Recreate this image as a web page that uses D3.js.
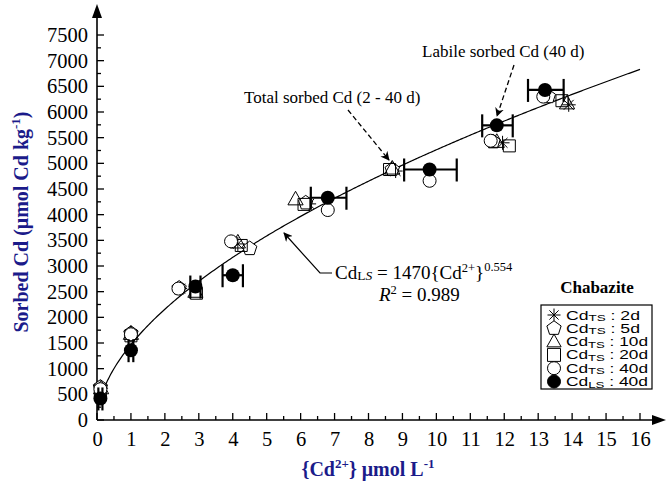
<!DOCTYPE html>
<html>
<head>
<meta charset="utf-8">
<style>
  body { margin: 0; background: #fff; }
  svg { display: block; }
</style>
</head>
<body>
<svg width="667" height="485"></svg>
<script src="https://cdn.jsdelivr.net/npm/d3@7"></script>
<script>
	// sorbed Cd vs free Cd2+ activity, chabazite
	var ts2dX = [0.12, 1.0, 2.45, 4.15, 6.25, 8.8, 11.95, 13.9];
	var ts2dY = [620, 1660, 2560, 3430, 4210, 4850, 5400, 6140];
	var ts5dX = [0.1, 1.0, 2.42, 4.5, 6.15, 8.7, 11.67, 13.3];
	var ts5dY = [640, 1690, 2570, 3340, 4230, 4880, 5420, 6300];
	var ts10dX = [0.12, 1.0, 2.9, 4.15, 5.85, 8.7, 11.78, 13.85];
	var ts10dY = [620, 1680, 2500, 3460, 4300, 4900, 5420, 6170];
	var ts20dX = [0.1, 1.0, 2.93, 4.25, 6.1, 8.62, 12.15, 13.7];
	var ts20dY = [580, 1640, 2470, 3400, 4200, 4880, 5340, 6220];
	var ts40dX = [0.1, 1.0, 2.4, 3.95, 6.8, 9.8, 11.6, 13.15];
	var ts40dY = [600, 1670, 2560, 3480, 4090, 4660, 5440, 6300];
	var lsX = [0.1, 1.0, 2.9, 4.0, 6.8, 9.8, 11.78, 13.2];
	var lsY = [420, 1360, 2600, 2820, 4330, 4880, 5740, 6430];
	var lsXlo = [0.04, 0.93, 2.75, 3.7, 6.3, 9.05, 11.35, 12.7];
	var lsXhi = [0.16, 1.07, 3.05, 4.3, 7.35, 10.6, 12.25, 13.75];

	// fitted isotherm CdLS = 1470 {Cd2+}^0.554
	var fitK = 1470, fitN = 0.554;

	var xTicks = d3.range(0, 17, 1);
	var yTicks = d3.range(0, 7501, 500);
	var legendLabels = ["2d", "5d", "10d", "20d", "40d", "40d"];
	var legendSubs = ["TS", "TS", "TS", "TS", "TS", "LS"];

	var svg = d3.select("svg");
	var navy = "#1b1b8a";
	var serif = "'Liberation Serif', serif";
	var sans = "'Liberation Sans', sans-serif";

	var x = d3.scaleLinear().domain([0, 16]).range([97, 640]);
	var y = d3.scaleLinear().domain([0, 7500]).range([420, 35]);

	var defs = svg.append("defs");
	defs.append("marker").attr("id", "head").attr("viewBox", "0 0 10 10")
			.attr("refX", 9).attr("refY", 5).attr("markerWidth", 9)
			.attr("markerHeight", 9).attr("markerUnits", "userSpaceOnUse")
			.attr("orient", "auto").append("path")
			.attr("d", "M0,0L10,5L0,10L3,5Z").attr("fill", "#000");

	// axes
	var axisG = svg.append("g");
	axisG.append("line").attr("x1", x(0)).attr("x2", 656).attr("y1", y(0))
			.attr("y2", y(0)).attr("stroke", "#000").attr("stroke-width", 1.6);
	axisG.append("path").attr("d", "M666," + y(0) + "L652," + (y(0) - 5) + "L652," + (y(0) + 5) + "Z")
			.attr("fill", "#000");
	axisG.append("line").attr("x1", x(0)).attr("x2", x(0)).attr("y1", y(0))
			.attr("y2", 16).attr("stroke", "#000").attr("stroke-width", 1.6);
	axisG.append("path").attr("d", "M" + x(0) + ",4L" + (x(0) - 5) + ",18L" + (x(0) + 5) + ",18Z")
			.attr("fill", "#000");

	var xAxis = d3.axisBottom(x).tickValues(xTicks).tickSize(0).tickPadding(11);
	var gx = svg.append("g").attr("transform", "translate(0," + y(0) + ")").call(xAxis);
	gx.select(".domain").remove();
	gx.selectAll("text").style("font-family", serif).style("font-size", "20.5px").attr("fill", "#000");

	var yAxis = d3.axisLeft(y).tickValues(yTicks).tickFormat(d3.format("d")).tickSize(0).tickPadding(9);
	var gy = svg.append("g").attr("transform", "translate(" + x(0) + ",0)").call(yAxis);
	gy.select(".domain").remove();
	gy.selectAll("text").style("font-family", serif).style("font-size", "20.5px").attr("fill", "#000");

	// tick marks pointing inward
	svg.append("g").selectAll("line").data(d3.range(0, 16.01, 0.5)).enter().append("line")
			.attr("x1", function(d) { return x(d); }).attr("x2", function(d) { return x(d); })
			.attr("y1", y(0)).attr("y2", function(d) { return y(0) - (d % 1 === 0 ? 7 : 4); })
			.attr("stroke", "#000").attr("stroke-width", 1.3);
	svg.append("g").selectAll("line").data(d3.range(0, 7501, 250)).enter().append("line")
			.attr("y1", function(d) { return y(d); }).attr("y2", function(d) { return y(d); })
			.attr("x1", x(0)).attr("x2", function(d) { return x(0) + (d % 500 === 0 ? 7 : 4); })
			.attr("stroke", "#000").attr("stroke-width", 1.3);

	// axis titles
	var yt = svg.append("text").attr("transform", "translate(28,222) rotate(-90)")
			.attr("text-anchor", "middle").style("font-family", serif).attr("font-weight", "bold")
			.attr("font-size", 20).attr("fill", navy);
	yt.append("tspan").text("Sorbed Cd (\u03bcmol Cd kg");
	yt.append("tspan").attr("font-size", 13).attr("dy", -8).text("-1");
	yt.append("tspan").attr("dy", 8).text(")");

	var xt = svg.append("text").attr("x", 368).attr("y", 476)
			.attr("text-anchor", "middle").style("font-family", serif).attr("font-weight", "bold")
			.attr("font-size", 20).attr("fill", navy);
	xt.append("tspan").text("{Cd");
	xt.append("tspan").attr("font-size", 13).attr("dy", -8).text("2+");
	xt.append("tspan").attr("dy", 8).text("} \u03bcmol L");
	xt.append("tspan").attr("font-size", 13).attr("dy", -8).text("-1");

	// fitted curve
	var fitXs = d3.range(0.12, 16.001, 0.04);
	svg.append("path").datum(fitXs)
			.attr("d", d3.line().x(function(d) { return x(d); })
					.y(function(d) { return y(fitK * Math.pow(d, fitN)); }))
			.attr("fill", "none").attr("stroke", "#000").attr("stroke-width", 1.2);

	// symbol shapes
	function starPath(r) {
		var p = "";
		for (var i = 0; i < 4; i++) {
			var a = Math.PI / 4 * i;
			var dx = r * Math.cos(a), dy = r * Math.sin(a);
			p += "M" + (-dx) + "," + (-dy) + "L" + dx + "," + dy;
		}
		return p;
	}
	function pentPath(r) {
		var pts = d3.range(5).map(function(i) {
			var a = -Math.PI / 2 + i * 2 * Math.PI / 5;
			return [r * Math.cos(a), r * Math.sin(a)];
		});
		return "M" + pts.join("L") + "Z";
	}
	function triPath(r) {
		return "M0," + (-r) + "L" + (r * 0.95) + "," + (r * 0.7) + "L" + (-r * 0.95) + "," + (r * 0.7) + "Z";
	}
	function sqPath(r) {
		return "M" + (-r) + "," + (-r) + "H" + r + "V" + r + "H" + (-r) + "Z";
	}
	function circPath(r) {
		return "M" + r + ",0A" + r + "," + r + " 0 1,1 " + (-r) + ",0A" + r + "," + r + " 0 1,1 " + r + ",0Z";
	}

	var series = [
		{ xs: ts2dX, ys: ts2dY, d: starPath(7), fill: "none" },
		{ xs: ts5dX, ys: ts5dY, d: pentPath(7.5), fill: "#fff" },
		{ xs: ts10dX, ys: ts10dY, d: triPath(8), fill: "none" },
		{ xs: ts20dX, ys: ts20dY, d: sqPath(6), fill: "none" },
		{ xs: ts40dX, ys: ts40dY, d: circPath(6.5), fill: "#fff" }
	];

	series.forEach(function(s) {
		svg.append("g").selectAll("path").data(s.xs).enter().append("path")
				.attr("transform", function(d, i) { return "translate(" + x(d) + "," + y(s.ys[i]) + ")"; })
				.attr("d", s.d).attr("fill", s.fill).attr("stroke", "#000").attr("stroke-width", 1);
	});

	// labile sorbed Cd with horizontal error bars
	var eb = svg.append("g").attr("stroke", "#000").attr("stroke-width", 2.2);
	lsX.forEach(function(d, i) {
		var cy = y(lsY[i]);
		eb.append("line").attr("x1", x(lsXlo[i])).attr("x2", x(lsXhi[i])).attr("y1", cy).attr("y2", cy);
		eb.append("line").attr("x1", x(lsXlo[i])).attr("x2", x(lsXlo[i])).attr("y1", cy - 11).attr("y2", cy + 12);
		eb.append("line").attr("x1", x(lsXhi[i])).attr("x2", x(lsXhi[i])).attr("y1", cy - 11).attr("y2", cy + 12);
	});
	svg.append("g").selectAll("circle").data(lsX).enter().append("circle")
			.attr("cx", function(d) { return x(d); })
			.attr("cy", function(d, i) { return y(lsY[i]); })
			.attr("r", 7).attr("fill", "#000");

	// annotations
	svg.append("text").attr("x", 422).attr("y", 57).style("font-family", serif)
			.attr("font-size", 17).text("Labile sorbed Cd (40 d)");
	svg.append("line").attr("x1", 514).attr("y1", 65).attr("x2", 497).attr("y2", 116)
			.attr("stroke", "#000").attr("stroke-width", 1.3).attr("stroke-dasharray", "5,3")
			.attr("marker-end", "url(#head)");

	svg.append("text").attr("x", 244).attr("y", 103).style("font-family", serif)
			.attr("font-size", 17).text("Total sorbed Cd (2 - 40 d)");
	svg.append("line").attr("x1", 348).attr("y1", 110).attr("x2", 389).attr("y2", 160)
			.attr("stroke", "#000").attr("stroke-width", 1.3).attr("stroke-dasharray", "5,3")
			.attr("marker-end", "url(#head)");

	svg.append("path").attr("d", "M332,273L320,273L284,233")
			.attr("fill", "none").attr("stroke", "#000").attr("stroke-width", 1.2)
			.attr("marker-end", "url(#head)");

	var eq = svg.append("text").attr("x", 335).attr("y", 279).style("font-family", serif)
			.attr("font-size", 19);
	eq.append("tspan").text("Cd");
	eq.append("tspan").attr("font-size", 13.5).attr("dy", 1).text("L");
	eq.append("tspan").attr("font-size", 13.5).attr("font-style", "italic").text("S");
	eq.append("tspan").attr("dy", -1).text(" = 1470{Cd");
	eq.append("tspan").attr("font-size", 12.5).attr("dy", -7).text("2+");
	eq.append("tspan").attr("dy", 7).text("}");
	eq.append("tspan").attr("font-size", 12.5).attr("dy", -8).text("0.554");

	var r2 = svg.append("text").attr("x", 379).attr("y", 301).style("font-family", serif)
			.attr("font-size", 19);
	r2.append("tspan").attr("font-style", "italic").text("R");
	r2.append("tspan").attr("font-size", 12.5).attr("dy", -7).text("2");
	r2.append("tspan").attr("dy", 7).text(" = 0.989");

	// legend
	svg.append("text").attr("x", 597).attr("y", 293).attr("text-anchor", "middle")
			.style("font-family", serif).attr("font-weight", "bold").attr("font-size", 17)
			.text("Chabazite");
	svg.append("rect").attr("x", 541).attr("y", 305).attr("width", 111).attr("height", 84)
			.attr("fill", "#fff").attr("stroke", "#000").attr("stroke-width", 1.2);

	var legendShapes = [starPath(6.5), pentPath(7.5), triPath(7.5), sqPath(6.5), circPath(6.5), circPath(6.5)];
	var legendFills = ["none", "#fff", "none", "none", "#fff", "#000"];
	var lg = svg.append("g").selectAll("g").data(legendLabels).enter().append("g")
			.attr("transform", function(d, i) { return "translate(0," + (315 + i * 13.3) + ")"; });
	lg.append("path").attr("transform", "translate(554,0)")
			.attr("d", function(d, i) { return legendShapes[i]; })
			.attr("fill", function(d, i) { return legendFills[i]; })
			.attr("stroke", "#000").attr("stroke-width", 1);
	var lt = lg.append("text").attr("x", 566).attr("y", 4.5).style("font-family", sans)
			.attr("font-size", 12.5);
	lt.append("tspan").text("Cd");
	lt.append("tspan").attr("font-size", 9.5).attr("dy", 1.5).text(function(d, i) { return legendSubs[i]; });
	lt.append("tspan").attr("dy", -1.5).text(function(d) { return " : " + d; });
	lt.attr("textLength", function(d) { return d.length === 2 ? 74 : 82; })
			.attr("lengthAdjust", "spacingAndGlyphs");
</script>
</body>
</html>
